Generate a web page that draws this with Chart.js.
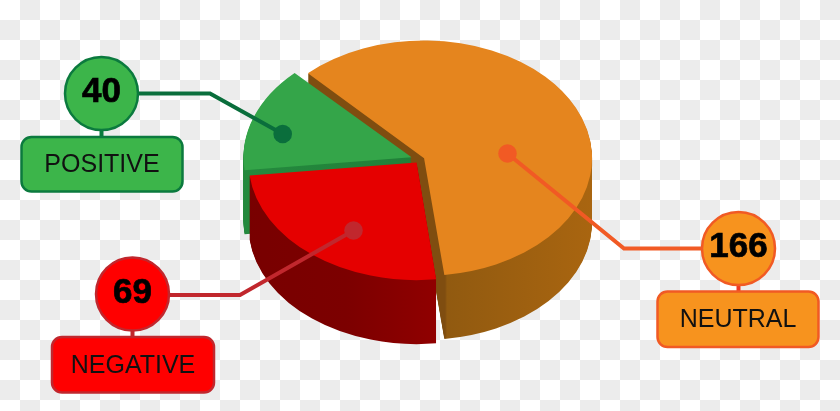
<!DOCTYPE html>
<html>
<head>
<meta charset="utf-8">
<script src="https://cdn.jsdelivr.net/npm/chart.js@4"></script>
<style>
html,body{margin:0;padding:0;width:840px;height:411px;overflow:hidden;background:#fff}
#wrap{width:840px;height:411px;background:repeating-conic-gradient(#ececec 0 25%,#fff 0 50%) 0 0/40px 40px}
canvas{display:block}
</style>
</head>
<body>
<div id="wrap"><canvas id="c" width="840" height="411"></canvas></div>
<script>
const categories = ['NEUTRAL', 'NEGATIVE', 'POSITIVE'];
const values = [166, 69, 40];
const sliceOffsets = [18, 22, 36];
const topColors = ['#e5851e', '#e50000', '#34a549'];
const startAngle = -44;
const pieRadius = 168;
const tilt = 0.7;
const pieCenterY = 159.5;
const pieDepth = 64;

const callouts = [
  {cx:738.5, cy:248.5, bx:657.5, by:291.5, bw:161, bh:55.5, line:[[701,248.5],[624,248.5],[507.5,153.5]],
   fill:'#f7931e', stroke:'#f15a24', lineColor:'#f15a24', stub:'#ee3a24'},
  {cx:132.5, cy:294, bx:52, by:337, bw:162, bh:55.5, line:[[170,295],[240,295],[353.5,230.5]],
   fill:'#ff0000', stroke:'#c1272d', lineColor:'#c1272d', stub:'#c1272d'},
  {cx:101.5, cy:93.5, bx:21.5, by:137, bw:161, bh:54.5, line:[[139,93.5],[210,93.5],[282.7,134]],
   fill:'#3cb54a', stroke:'#0b7a3e', lineColor:'#0a6e3c', stub:'#0b7a3e'}
];

function wallFill(ctx, i) {
  const g = ctx.createLinearGradient(240, 0, 600, 0);
  const stop = x => (x - 240) / 360;
  if (i === 0) {
    g.addColorStop(0, '#7f4d10');
    g.addColorStop(stop(441), '#7f4d10');
    g.addColorStop(stop(443), '#915a10');
    g.addColorStop(1, '#ab6610');
  } else if (i === 1) {
    g.addColorStop(0, '#780000');
    g.addColorStop(stop(350), '#7c0000');
    g.addColorStop(stop(440), '#900000');
    g.addColorStop(1, '#900000');
  } else {
    g.addColorStop(0, '#258a3e');
    g.addColorStop(1, '#1c7633');
  }
  return g;
}

const pie3d = {
  id: 'pie3d',
  beforeDatasetsDraw(chart) {
    const ctx = chart.ctx;
    const arcs = chart.getDatasetMeta(0).data;
    const midY = (chart.chartArea.top + chart.chartArea.bottom) / 2;
    const paint = (i, drop, color) => {
      const arc = arcs[i];
      const own = arc.options;
      const ownRadius = arc.outerRadius;
      arc.options = Object.assign({}, own, {backgroundColor: color});
      // Chart.js widens an offset arc slightly when it draws it: take that back out
      const fix = 1 - Math.sin(Math.min(Math.PI, arc.circumference || 0));
      arc.outerRadius = ownRadius - (own.offset || 0) / 4 * fix;
      ctx.save();
      ctx.translate(0, pieCenterY + drop);
      ctx.scale(1, tilt);
      ctx.translate(0, -midY);
      arc.draw(ctx);
      ctx.restore();
      arc.options = own;
      arc.outerRadius = ownRadius;
    };
    const wall = i => {
      const f = wallFill(ctx, i);
      for (let d = pieDepth; d >= 1; d -= 1) paint(i, d, f);
    };
    wall(0);
    wall(2);
    paint(2, 0, topColors[2]);
    wall(1);
    paint(1, 0, topColors[1]);
    paint(0, 0, topColors[0]);
    return false;
  },
  afterDraw(chart) {
    const ctx = chart.ctx;
    ctx.save();
    ctx.lineJoin = 'miter';
    callouts.forEach((c, i) => {
      // connector and anchor dot
      ctx.strokeStyle = c.lineColor;
      ctx.lineWidth = 4;
      ctx.beginPath();
      c.line.forEach((p, k) => k ? ctx.lineTo(p[0], p[1]) : ctx.moveTo(p[0], p[1]));
      ctx.stroke();
      const end = c.line[c.line.length - 1];
      ctx.fillStyle = c.lineColor;
      ctx.beginPath();
      ctx.arc(end[0], end[1], 9.3, 0, Math.PI * 2);
      ctx.fill();
      // stub
      ctx.strokeStyle = c.stub;
      ctx.beginPath();
      ctx.moveTo(c.cx, c.cy + 37);
      ctx.lineTo(c.cx, c.by);
      ctx.stroke();
      // value circle
      ctx.fillStyle = c.fill;
      ctx.strokeStyle = c.stroke;
      ctx.lineWidth = 2.5;
      ctx.beginPath();
      ctx.arc(c.cx, c.cy, 36.5, 0, Math.PI * 2);
      ctx.fill();
      ctx.stroke();
      // label box
      ctx.beginPath();
      ctx.roundRect(c.bx, c.by, c.bw, c.bh, 10);
      ctx.fill();
      ctx.stroke();
      // texts
      ctx.textAlign = 'center';
      ctx.textBaseline = 'middle';
      ctx.fillStyle = '#000';
      ctx.strokeStyle = '#000';
      ctx.lineWidth = 0.7;
      ctx.font = 'bold 35px "Liberation Sans"';
      ctx.fillText(String(values[i]), c.cx, c.cy - 1);
      ctx.strokeText(String(values[i]), c.cx, c.cy - 1);
      ctx.fillStyle = '#111';
      ctx.font = '25px "Liberation Sans"';
      ctx.fillText(categories[i], c.bx + c.bw / 2, c.by + c.bh / 2 + 1);
    });
    ctx.restore();
  }
};

new Chart(document.getElementById('c'), {
  type: 'pie',
  data: {
    labels: categories,
    datasets: [{
      data: values,
      backgroundColor: topColors,
      offset: sliceOffsets,
      borderWidth: 0,
      hoverOffset: 0
    }]
  },
  options: {
    responsive: false,
    animation: false,
    rotation: startAngle,
    radius: pieRadius,
    layout: {padding: 0},
    events: [],
    plugins: {legend: {display: false}, tooltip: {enabled: false}}
  },
  plugins: [pie3d]
});
</script>
</body>
</html>
